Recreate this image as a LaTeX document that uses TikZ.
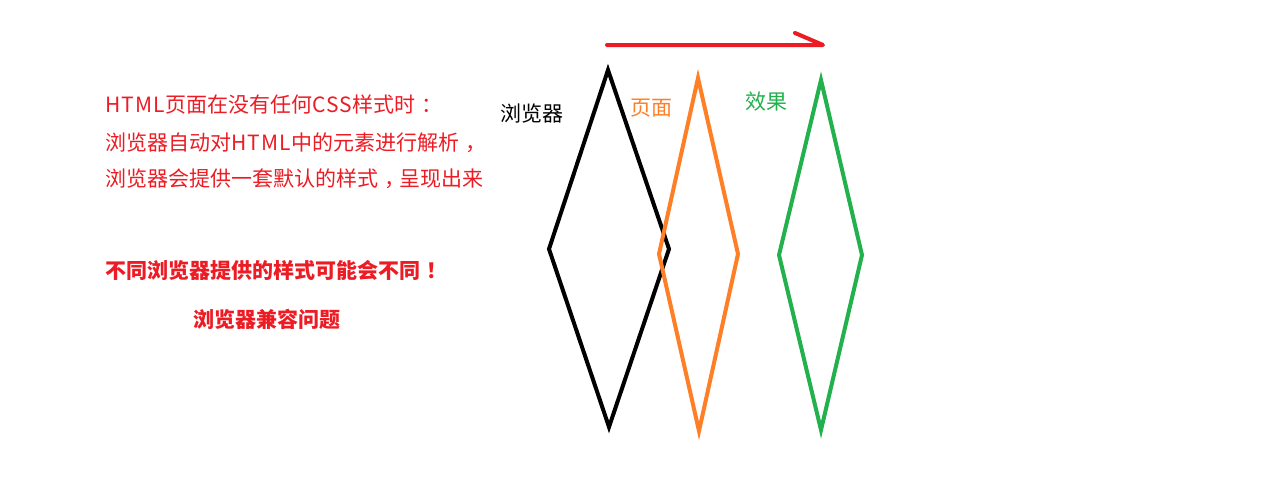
\documentclass[tikz,border=0pt]{standalone}
\usepackage{fontspec}
\newfontfamily\cjk{Noto Sans CJK SC}
\newcommand\lat[1]{{\addfontfeature{LetterSpace=6}#1}}
\newcommand\cpunct[1]{\hspace{0.3em}#1}
\begin{document}
\begin{tikzpicture}[x=1pt,y=-1pt,
  txt/.style={anchor=west,inner sep=0pt,font=\cjk\fontsize{21}{24}\selectfont},
  btxt/.style={anchor=west,inner sep=0pt,font=\cjk\bfseries\fontsize{21}{24}\selectfont,text=redc},
  diam/.style={line width=4pt,line join=miter},
]
\definecolor{redc}{RGB}{237,28,36}
\definecolor{orangec}{RGB}{255,127,39}
\definecolor{greenc}{RGB}{34,177,76}
\useasboundingbox (0,0) rectangle (1271,479);
\fill[white] (0,0) rectangle (1271,479);

% red arrow
\coordinate (as) at (607,45);
\coordinate (ae) at (823,45);
\coordinate (ab) at (795,33);
\draw[redc,line width=4pt,line cap=round,line join=round] (as) -- (ae) -- (ab);

% black diamond
\coordinate (bt) at (608,70);
\coordinate (bl) at (549,249);
\coordinate (bb) at (609,427);
\coordinate (br) at (669,249);
\draw[diam,black] (bt) -- (bl) -- (bb) -- (br) -- cycle;

% orange diamond
\coordinate (ot) at (698,78);
\coordinate (ol) at (659,254);
\coordinate (ob) at (699,431);
\coordinate (or) at (738,254);
\draw[diam,orangec] (ot) -- (ol) -- (ob) -- (or) -- cycle;

% green diamond
\coordinate (gt) at (821,80);
\coordinate (gl) at (779,255);
\coordinate (gb) at (821,430);
\coordinate (gr) at (862,255);
\draw[diam,greenc] (gt) -- (gl) -- (gb) -- (gr) -- cycle;

% labels
\node[txt,text=black] (lb) at (500,114) {浏览器};
\node[txt,text=orangec] (lp) at (630,108) {页面};
\node[txt,text=greenc] (le) at (745,102) {效果};

% left text
\node[txt,text=redc] (t1) at (105,105) {\lat{HTML}页面在没有任何\lat{CSS}样式时\cpunct{：}};
\node[txt,text=redc] (t2) at (105,143) {浏览器自动对\lat{HTML}中的元素进行解析\cpunct{，}};
\node[txt,text=redc] (t3) at (105,179) {浏览器会提供一套默认的样式\cpunct{，}\hspace{-0.3em}呈现出来};
\node[btxt] (t4) at (105,270) {不同浏览器提供的样式可能会不同\cpunct{！}};
\node[btxt] (t5) at (193,319) {浏览器兼容问题};
\end{tikzpicture}
\end{document}
